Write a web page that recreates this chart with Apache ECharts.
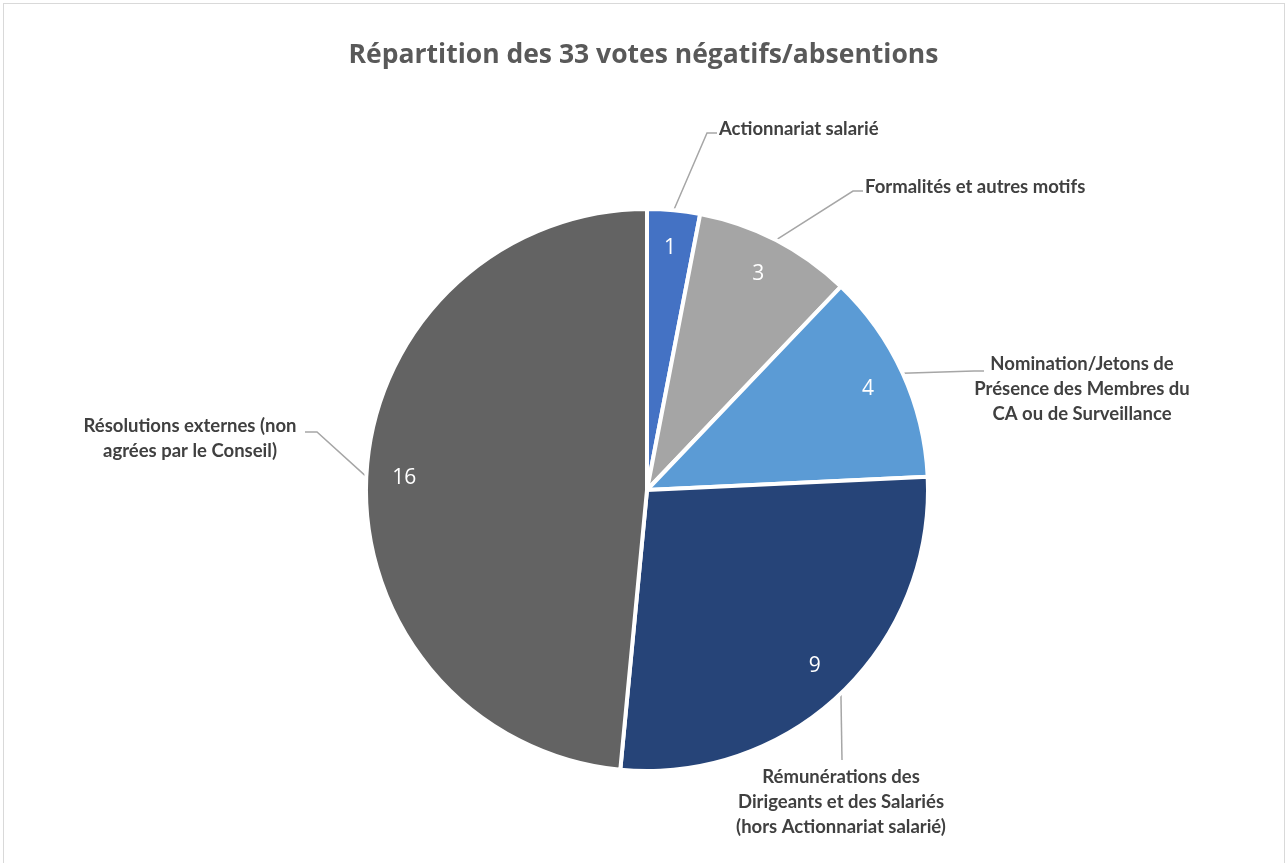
<!DOCTYPE html>
<html>
<head>
<meta charset="utf-8">
<script src="https://cdn.jsdelivr.net/npm/echarts@6/dist/echarts.min.js"></script>
<style>
  html, body { margin: 0; padding: 0; background: #fff; }
  #frame { position: absolute; left: 3px; top: 3px; width: 1282px; height: 900px; border: 1px solid #d9d9d9; box-sizing: border-box; }
  #chart { position: absolute; left: 0; top: 0; width: 1287px; height: 863px; }
</style>
</head>
<body>
<div id="frame"></div>
<div id="chart"></div>
<script>
const title = 'Répartition des 33 votes négatifs/absentions'
const categories = [
  'Actionnariat salarié',
  'Formalités et autres motifs',
  'Nomination/Jetons de\nPrésence des Membres du\nCA ou de Surveillance',
  'Rémunérations des\nDirigeants et des Salariés\n(hors Actionnariat salarié)',
  'Résolutions externes (non\nagrées par le Conseil)'
]
const values = [1, 3, 4, 9, 16]
const colors = ['#4472C4', '#A5A5A5', '#5B9BD5', '#264478', '#636363']

// where each outside label sits, and where its leader line ends
const labelPlaces = [
  { x: 719, y: 129, align: 'left', end: [717, 133], elbow: [707, 133] },
  { x: 865, y: 187, align: 'left', end: [863, 191], elbow: [853, 191] },
  { x: 1082, y: 389, align: 'center', end: [984, 371], elbow: [974, 371] },
  { x: 841, y: 802, align: 'center', end: [842, 760], elbow: [842, 760] },
  { x: 190, y: 439, align: 'center', end: [305, 432], elbow: [317, 432] }
]

const center = [647, 490]
const labelFont = 'Lato, "Open Sans", sans-serif'
const titleFont = '"Open Sans", Lato, sans-serif'

const chart = echarts.init(document.getElementById('chart'))

const pieData = categories.map((name, i) => ({
  name,
  value: values[i],
  itemStyle: { color: colors[i] }
}))

const option = {
  animation: false,
  title: {
    text: title,
    left: 'center',
    top: 37,
    textStyle: { fontFamily: titleFont, fontSize: 26.5, fontWeight: 'bold', color: '#595959' }
  },
  series: [
    {
      type: 'pie',
      center,
      radius: 281,
      startAngle: 90,
      clockwise: true,
      avoidLabelOverlap: false,
      data: pieData,
      itemStyle: { borderColor: '#fff', borderWidth: 4 },
      emphasis: { disabled: true },
      label: {
        show: true,
        position: 'outside',
        formatter: '{b}',
        fontFamily: labelFont,
        fontSize: 18.5,
        fontWeight: 'bold',
        color: '#404040',
        lineHeight: 25
      },
      labelLine: {
        show: true,
        length: 20,
        length2: 10,
        lineStyle: { color: '#a6a6a6', width: 1.5 }
      },
      labelLayout: (params) => {
        const p = labelPlaces[params.dataIndex]
        const start = params.labelLinePoints ? params.labelLinePoints[0] : p.elbow
        return {
          x: p.x,
          y: p.y,
          align: p.align,
          verticalAlign: 'middle',
          labelLinePoints: [start, p.elbow, p.end]
        }
      }
    },
    {
      // value labels, placed near the rim like the original
      type: 'pie',
      center,
      radius: 480,
      startAngle: 90,
      clockwise: true,
      silent: true,
      data: values.map((v, i) => ({ name: categories[i], value: v })),
      itemStyle: { color: 'transparent' },
      label: {
        show: true,
        position: 'inside',
        formatter: '{c}',
        fontFamily: titleFont,
        fontSize: 21,
        color: '#fff'
      },
      labelLine: { show: false }
    }
  ]
}

chart.setOption(option)
</script>
</body>
</html>
